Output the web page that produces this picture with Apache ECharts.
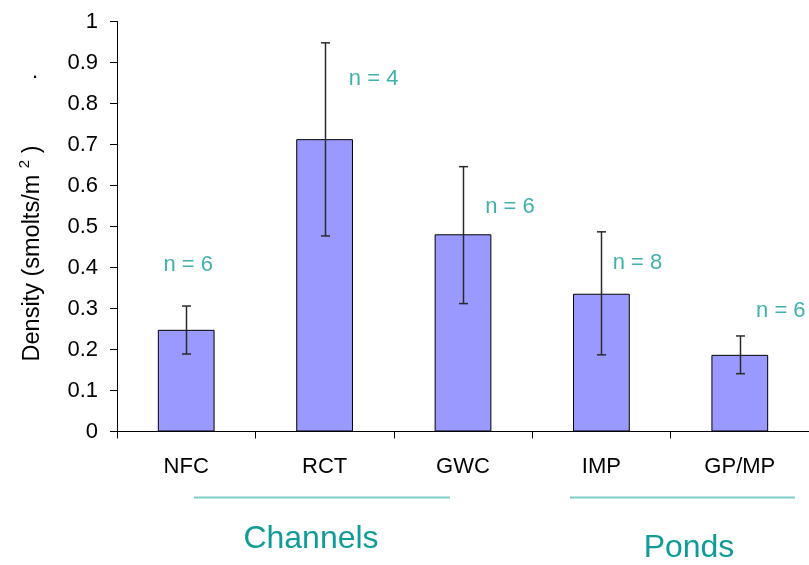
<!DOCTYPE html>
<html>
<head>
<meta charset="utf-8">
<script src="https://cdn.jsdelivr.net/npm/echarts@6/dist/echarts.min.js"></script>
<style>html,body{margin:0;padding:0;background:#fff;}#c{width:809px;height:565px;}</style>
</head>
<body>
<div id="c"></div>
<script>
const categories = ['NFC', 'RCT', 'GWC', 'IMP', 'GP/MP'];
const density = [0.248, 0.713, 0.481, 0.336, 0.187];
const errLow = [0.189, 0.477, 0.312, 0.187, 0.141];
const errHigh = [0.306, 0.948, 0.646, 0.487, 0.233];
const nLabels = ['n = 6', 'n = 4', 'n = 6', 'n = 8', 'n = 6'];
const nLabelY = [0.406, 0.86, 0.548, 0.411, 0.294];
const yTicks = [0, 0.1, 0.2, 0.3, 0.4, 0.5, 0.6, 0.7, 0.8, 0.9, 1];

// label horizontal offsets (px) relative to category centre
const nLabelDx = [2, 49, 47, 36, 41];

const FONT = '"Liberation Sans", Arial, sans-serif';
const TEAL = '#0f9c97';

const chart = echarts.init(document.getElementById('c'), null, {renderer: 'canvas'});

const option = {
  animation: false,
  backgroundColor: '#ffffff',
  grid: {left: 117, right: -1, top: 21.5, bottom: 133.5, containLabel: false},
  xAxis: {
    type: 'category',
    data: categories,
    boundaryGap: true,
    axisLine: {lineStyle: {color: '#000', width: 1}},
    axisTick: {show: true, length: 7, alignWithLabel: false, lineStyle: {color: '#000'}},
    axisLabel: {color: '#000', fontFamily: FONT, fontSize: 22, margin: 24},
    splitLine: {show: false}
  },
  yAxis: {
    type: 'value',
    min: yTicks[0],
    max: yTicks[yTicks.length - 1],
    interval: 0.1,
    axisLine: {show: true, lineStyle: {color: '#000', width: 1}},
    axisTick: {show: true, length: 7, lineStyle: {color: '#000'}},
    axisLabel: {color: '#000', fontFamily: FONT, fontSize: 22, margin: 19,
      formatter: v => String(+v.toFixed(1))},
    splitLine: {show: false}
  },
  series: [
    {
      type: 'bar',
      data: density,
      barWidth: '41%',
      itemStyle: {color: '#9999ff', borderColor: '#000', borderWidth: 1},
      z: 2
    },
    {
      type: 'custom',
      data: categories.map((c, i) => [i, errLow[i], errHigh[i]]),
      z: 5,
      renderItem: function (params, api) {
        const lo = api.coord([api.value(0), api.value(1)]);
        const hi = api.coord([api.value(0), api.value(2)]);
        const x = Math.round(lo[0]) + 0.5;
        const hw = 4.5;
        const st = {stroke: '#2a2a2a', lineWidth: 1.5};
        return {
          type: 'group',
          children: [
            {type: 'line', shape: {x1: x, y1: lo[1], x2: x, y2: hi[1]}, style: st},
            {type: 'line', shape: {x1: x - hw, y1: lo[1], x2: x + hw, y2: lo[1]}, style: st},
            {type: 'line', shape: {x1: x - hw, y1: hi[1], x2: x + hw, y2: hi[1]}, style: st}
          ]
        };
      }
    },
    {
      type: 'scatter',
      symbolSize: 0,
      z: 6,
      data: categories.map((c, i) => ({
        value: [i, nLabelY[i]],
        label: {offset: [nLabelDx[i], 0], formatter: nLabels[i]}
      })),
      label: {show: true, position: 'inside', color: TEAL, fontFamily: FONT, fontSize: 22},
      silent: true
    }
  ],
  graphic: [
    {
      type: 'text',
      x: 31, y: 253.5,
      rotation: Math.PI / 2,
      style: {
        text: '{a|Density (smolts/m }{s|2}{a| )}',
        align: 'center', verticalAlign: 'middle',
        fill: '#000',
        rich: {
          a: {fontFamily: FONT, fontSize: 23.5, fill: '#000', verticalAlign: 'bottom'},
          s: {fontFamily: FONT, fontSize: 15, fill: '#000', verticalAlign: 'top', padding: [0, 0, 12, 0]}
        }
      }
    },
    {
      type: 'text', x: 35, y: 72,
      style: {text: '.', fontFamily: FONT, fontSize: 22, fill: '#000', align: 'center', verticalAlign: 'middle'}
    },
    {
      type: 'line', shape: {x1: 194, y1: 497.5, x2: 450, y2: 497.5},
      style: {stroke: '#7ecdc7', lineWidth: 2}
    },
    {
      type: 'line', shape: {x1: 570, y1: 497.5, x2: 795, y2: 497.5},
      style: {stroke: '#7ecdc7', lineWidth: 2}
    },
    {
      type: 'text', x: 311, y: 539,
      style: {text: 'Channels', fontFamily: FONT, fontSize: 32, fill: TEAL, align: 'center', verticalAlign: 'middle'}
    },
    {
      type: 'text', x: 689, y: 548,
      style: {text: 'Ponds', fontFamily: FONT, fontSize: 32, fill: TEAL, align: 'center', verticalAlign: 'middle'}
    }
  ]
};
chart.setOption(option);
</script>
</body>
</html>
